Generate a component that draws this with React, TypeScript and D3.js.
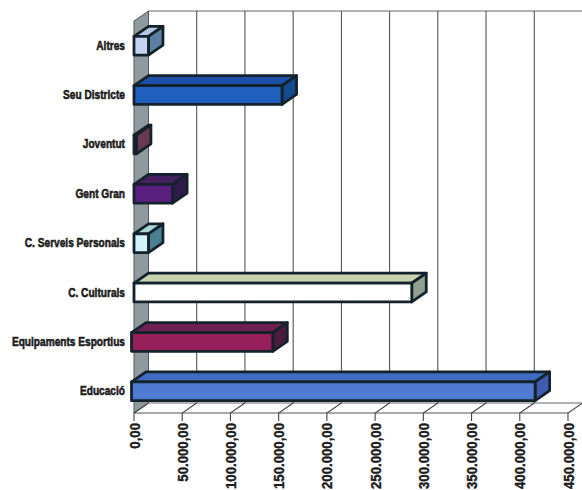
import React from "react";
import * as d3 from "d3";

const categories = ["Altres", "Seu Districte", "Joventut", "Gent Gran", "C. Serveis Personals", "C. Culturals", "Equipaments Esportius", "Educació"];
const values = [15000, 153500, 2500, 40000, 15000, 288000, 146500, 418500];
const fronts = ["#c6d4f2", "#1f5fbe", "#a34c5c", "#5a2080", "#d2f1f8", "#ffffff", "#98205a", "#4f7cd0"];
const tops = ["#b4c8e4", "#1c50a8", "#8a4458", "#44205e", "#a8d8d8", "#c8d4b0", "#702050", "#3f6cc0"];
const sides = ["#5c80a4", "#174a8c", "#6a3a50", "#2e1c4a", "#4a8090", "#8fa090", "#4a1c40", "#3f5cb0"];
const tickValues = d3.range(0, 500000, 50000);
const tickLabels = ["0,00", "50.000,00", "100.000,00", "150.000,00", "200.000,00", "250.000,00", "300.000,00", "350.000,00", "400.000,00", "450.000,00"];

const DX = 14.5, DY = -10;
const INK = "#14222c";
const FONT = "'Liberation Sans', Arial, sans-serif";
const x = d3.scaleLinear().domain([0, 450000]).range([134, 568]);
const y = d3.scaleBand<string>().domain(categories).range([21, 416]).paddingInner(0.62).paddingOuter(0.31);
const pts = (p: number[][]) => p.map((q) => q.join(",")).join(" ");

export default function App() {
  const top = 21, bot = 413;
  return (
    <svg width={582} height={490} style={{ position: "fixed", left: 0, top: 0, background: "#fff" }}>
      <polygon points={pts([[x(0), top], [x(0) + DX, top + DY], [x(0) + DX, bot + DY], [x(0), bot]])} fill="#8f9a9c" stroke="#556" strokeWidth={1} />
      <line x1={x(0) + DX} x2={x(450000) + DX} y1={top + DY} y2={top + DY} stroke="#666" strokeWidth={1} />
      <line x1={x(0) + DX} x2={x(450000) + DX} y1={bot + DY} y2={bot + DY} stroke="#666" strokeWidth={1} />
      <line x1={x(0)} x2={x(450000)} y1={bot} y2={bot} stroke="#555" strokeWidth={1.2} />
      {tickValues.map((t, i) => (
        <g key={t}>
          {i > 0 && <line x1={x(t) + DX} x2={x(t) + DX} y1={top + DY} y2={bot + DY} stroke="#444" strokeWidth={1} />}
          <polyline points={pts([[x(t) + DX, bot + DY], [x(t), bot], [x(t), bot + 8]])} fill="none" stroke="#444" strokeWidth={1.1} />
          <text
            transform={`translate(${x(t) + 5.5},${bot + 10}) rotate(-90) scale(0.88,1)`}
            textAnchor="end"
            fontFamily={FONT}
            fontWeight="bold"
            fontSize={15}
            fill="#1c1c1c"
            stroke="#1c1c1c"
            strokeWidth={0.4}
          >
            {tickLabels[i]}
          </text>
        </g>
      ))}
      <line x1={x(450000) + DX} x2={x(450000) + DX} y1={top + DY} y2={bot + DY} stroke="#444" strokeWidth={1} />
      {categories.map((c, i) => {
        const y0 = y(c)!, h = y.bandwidth();
        const shift = i >= 6 ? -2.5 : 0;
        const a = x(0) + shift, b = x(values[i]) + shift;
        return (
          <g key={c} stroke={INK} strokeWidth={2.8} strokeLinejoin="round">
            <polygon points={pts([[a, y0], [a + DX, y0 + DY], [b + DX, y0 + DY], [b, y0]])} fill={tops[i]} />
            <polygon points={pts([[b, y0], [b + DX, y0 + DY], [b + DX, y0 + h + DY], [b, y0 + h]])} fill={sides[i]} />
            <rect x={a} y={y0} width={b - a} height={h} fill={fronts[i]} />
            <text
              transform={`translate(125,${y0 + h / 2 + 4}) scale(0.78,1)`}
              textAnchor="end"
              fontFamily={FONT}
              fontWeight="bold"
              fontSize={13}
              fill="#1c1c1c"
              stroke="#1c1c1c"
              strokeWidth={0.6}
            >
              {c}
            </text>
          </g>
        );
      })}
    </svg>
  );
}
